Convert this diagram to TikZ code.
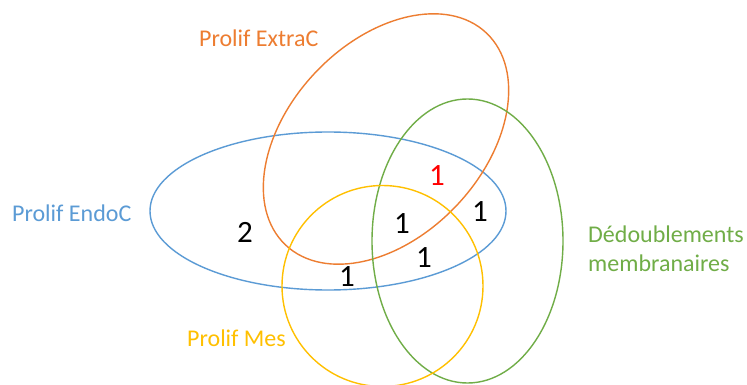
\documentclass[tikz,border=0pt]{standalone}
\usepackage{fontspec}
\setmainfont{Carlito}
\usetikzlibrary{shapes.geometric}
\definecolor{cOrange}{HTML}{ED7D31}
\definecolor{cBlue}{HTML}{5B9BD5}
\definecolor{cGreen}{HTML}{70AD47}
\definecolor{cYellow}{HTML}{FFC000}
\definecolor{cRed}{HTML}{FF0000}
\begin{document}
\begin{tikzpicture}[x=1pt,y=-1pt,
  venn/.style={ellipse, line width=1.4pt, inner sep=0pt, fill=none},
  lbl/.style={anchor=base west, inner sep=0pt, font=\fontsize{24}{29}\selectfont},
  num/.style={anchor=center, inner sep=0pt, font=\fontsize{31}{36}\selectfont}]
\useasboundingbox[fill=white] (0,0) rectangle (747,385);
\begin{scope}
\clip (0,0) rectangle (747,385);
\node[venn, draw=cBlue, minimum width=356pt, minimum height=158pt] (endo) at (328,211) {};
\node[venn, draw=cOrange, minimum width=292pt, minimum height=194pt, rotate=46.5] (extra) at (386,139) {};
\node[venn, draw=cGreen, minimum width=191pt, minimum height=284pt] (dedoub) at (467.5,241) {};
\node[venn, draw=cYellow, minimum width=201pt, minimum height=201pt] (mes) at (382.5,286) {};
\end{scope}
\node[lbl, text=cOrange] (lextra) at (199,47) {Prolif ExtraC};
\node[lbl, text=cBlue] (lendo) at (12,221) {Prolif EndoC};
\node[lbl, text=cGreen] (ldedoub1) at (588,242) {Dédoublements};
\node[lbl, text=cGreen] (ldedoub2) at (588,271) {membranaires};
\node[lbl, text=cYellow] (lmes) at (187,346) {Prolif Mes};
\node[num, text=cRed] (nred) at (437,176) {1};
\node[num] (n2) at (245,232) {2};
\node[num] (na) at (402,224) {1};
\node[num] (nb) at (480,212) {1};
\node[num] (nc) at (424,258) {1};
\node[num] (nd) at (347,277) {1};
\end{tikzpicture}
\end{document}
